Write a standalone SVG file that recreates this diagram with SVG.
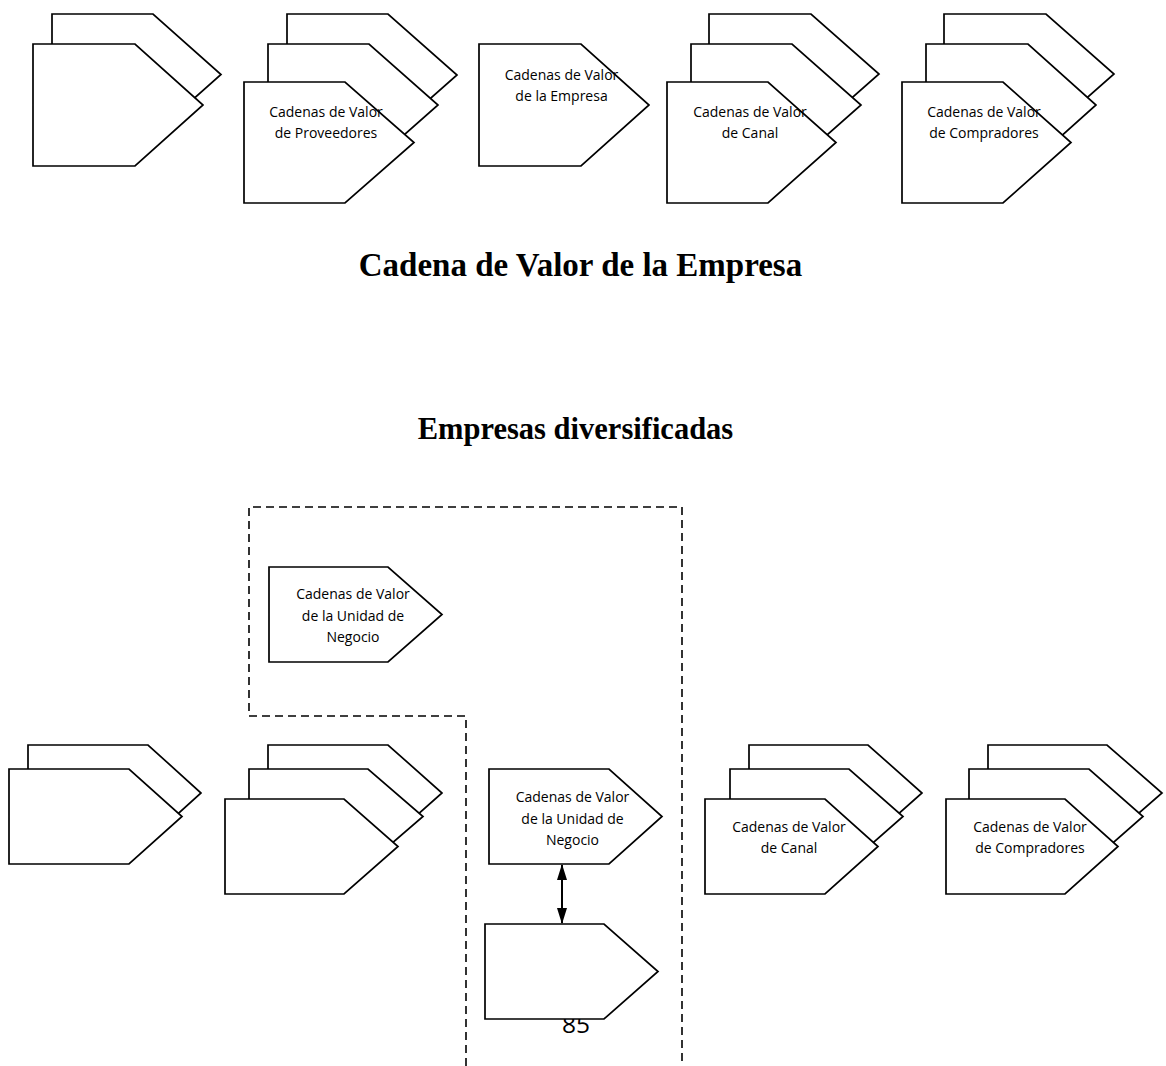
<svg xmlns="http://www.w3.org/2000/svg" width="1166" height="1066" viewBox="0 0 1166 1066">
  <style>
    .chev { fill: #ffffff; stroke: #000000; stroke-width: 1.7; stroke-linejoin: miter; }
    .lbl { font-family: "Open Sans", "Noto Sans", "Liberation Sans", sans-serif; font-size: 14px; fill: #000000; text-anchor: middle; }
    .title { font-family: "Liberation Serif", "Times New Roman", serif; font-weight: bold; fill: #000000; text-anchor: middle; }
    .dash { fill: none; stroke: #000000; stroke-width: 1.6; stroke-dasharray: 8 5; }
    .link { stroke: #000000; stroke-width: 2; fill: none; }
  </style>
  <defs>
    <marker id="head" viewBox="0 0 16 10" refX="15" refY="5" markerWidth="16" markerHeight="10" markerUnits="userSpaceOnUse" orient="auto-start-reverse">
      <path d="M0,0 L16,5 L0,10 Z" fill="#000000"/>
    </marker>
  </defs>
  <rect width="1166" height="1066" fill="#ffffff"/>

  <!-- Top row: value system of a single firm -->
  <g id="top-group-1">
    <polygon class="chev" points="52,14 153,14 221,74.5 153,135 52,135"/>
    <polygon class="chev" points="33,44 135,44 203,105 135,166 33,166"/>
  </g>
  <g id="top-proveedores">
    <polygon class="chev" points="287,14 388,14 457,75 388,136 287,136"/>
    <polygon class="chev" points="268,44 369,44 438,105 369,166 268,166"/>
    <polygon class="chev" points="244,82 345,82 414,142.5 345,203 244,203"/>
    <text class="lbl" x="326" y="117">Cadenas de Valor</text>
    <text class="lbl" x="326" y="138">de Proveedores</text>
  </g>
  <g id="top-empresa">
    <polygon class="chev" points="479,44 581,44 649,105 581,166 479,166"/>
    <text class="lbl" x="561.5" y="80">Cadenas de Valor</text>
    <text class="lbl" x="561.5" y="101">de la Empresa</text>
  </g>
  <g id="top-canal">
    <polygon class="chev" points="709,14 811,14 879,74 811,134 709,134"/>
    <polygon class="chev" points="691,44 792,44 861,105 792,166 691,166"/>
    <polygon class="chev" points="667,82 768,82 836,142.5 768,203 667,203"/>
    <text class="lbl" x="750" y="117">Cadenas de Valor</text>
    <text class="lbl" x="750" y="138">de Canal</text>
  </g>
  <g id="top-compradores">
    <polygon class="chev" points="944,14 1046,14 1114,74 1046,134 944,134"/>
    <polygon class="chev" points="926,44 1028,44 1096,105 1028,166 926,166"/>
    <polygon class="chev" points="902,82 1003,82 1071,142.5 1003,203 902,203"/>
    <text class="lbl" x="984" y="117">Cadenas de Valor</text>
    <text class="lbl" x="984" y="138">de Compradores</text>
  </g>

  <text id="title-empresa" class="title" x="580.5" y="276" font-size="33">Cadena de Valor de la Empresa</text>
  <text id="title-diversificadas" class="title" x="575.5" y="439" font-size="30.5">Empresas diversificadas</text>

  <!-- Boundary of the diversified firm and the link between its units -->
  <g id="connectors">
    <path class="dash" d="M466,1066 V716 H249 V507 H682 V1066"/>
    <line class="link" x1="562" y1="865" x2="562" y2="923" marker-start="url(#head)" marker-end="url(#head)"/>
  </g>

  <text id="page-number" x="576" y="1033" font-family="Open Sans, Noto Sans, Liberation Sans, sans-serif" font-size="24.5" text-anchor="middle" fill="#000000">85</text>

  <!-- Bottom row: value system of a diversified firm -->
  <g id="unit-top">
    <polygon class="chev" points="269,567 388,567 442,614.5 388,662 269,662"/>
    <text class="lbl" x="353" y="599">Cadenas de Valor</text>
    <text class="lbl" x="353" y="620.5">de la Unidad de</text>
    <text class="lbl" x="353" y="642">Negocio</text>
  </g>
  <g id="bottom-group-1">
    <polygon class="chev" points="28,745 148,745 201,793 148,841 28,841"/>
    <polygon class="chev" points="9,769 129,769 182,816.5 129,864 9,864"/>
  </g>
  <g id="bottom-group-2">
    <polygon class="chev" points="268,745 388,745 442,793 388,841 268,841"/>
    <polygon class="chev" points="249,769 368,769 423,816.5 368,864 249,864"/>
    <polygon class="chev" points="225,799 344,799 398,846.5 344,894 225,894"/>
  </g>
  <g id="unit-middle">
    <polygon class="chev" points="489,769 609,769 662,816.5 609,864 489,864"/>
    <text class="lbl" x="572.5" y="802">Cadenas de Valor</text>
    <text class="lbl" x="572.5" y="823.5">de la Unidad de</text>
    <text class="lbl" x="572.5" y="845">Negocio</text>
  </g>
  <g id="unit-lower">
    <polygon class="chev" points="485,924 604,924 658,971.5 604,1019 485,1019"/>
  </g>
  <g id="bottom-canal">
    <polygon class="chev" points="749,745 868,745 922,793 868,841 749,841"/>
    <polygon class="chev" points="730,769 849,769 903,816.5 849,864 730,864"/>
    <polygon class="chev" points="705,799 825,799 878,846.5 825,894 705,894"/>
    <text class="lbl" x="789" y="832">Cadenas de Valor</text>
    <text class="lbl" x="789" y="853">de Canal</text>
  </g>
  <g id="bottom-compradores">
    <polygon class="chev" points="988,745 1107,745 1162,793 1107,841 988,841"/>
    <polygon class="chev" points="969,769 1089,769 1143,816.5 1089,864 969,864"/>
    <polygon class="chev" points="946,799 1065,799 1118,846.5 1065,894 946,894"/>
    <text class="lbl" x="1030" y="832">Cadenas de Valor</text>
    <text class="lbl" x="1030" y="853">de Compradores</text>
  </g>
</svg>
